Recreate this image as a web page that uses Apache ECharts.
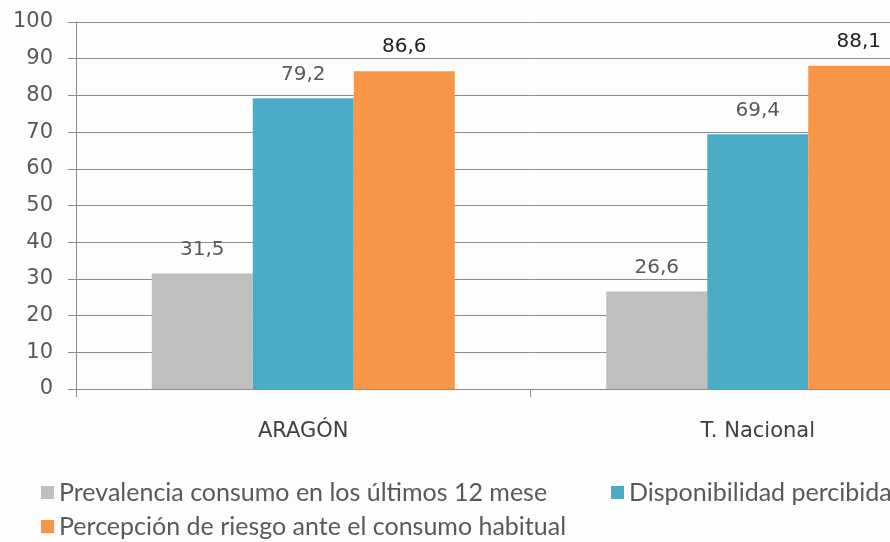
<!DOCTYPE html>
<html>
<head>
<meta charset="utf-8">
<script src="https://cdn.jsdelivr.net/npm/echarts@6/dist/echarts.min.js"></script>
<style>
  html, body { margin: 0; padding: 0; background: #fdfdfd; overflow: hidden; }
  /* el gráfico original está recortado por la derecha: lienzo más ancho que la ventana */
  #chart { width: 985px; height: 542px; }
</style>
</head>
<body>
<div id="chart"></div>
<script>
// datos
const categorias = ["ARAGÓN", "T. Nacional"];
const nombres = [
  "Prevalencia consumo en los últimos 12 mese",
  "Disponibilidad percibida",
  "Percepción de riesgo ante el consumo habitual",
];
const prevalencia = [31.5, 26.6];
const disponibilidad = [79.2, 69.4];
const percepcion = [86.6, 88.1];
const colores = ["#bfbfbf", "#4bacc6", "#f79646"];

const chart = echarts.init(document.getElementById("chart"));

const fmt = (p) => String(p.value).replace(".", ",");

function serie(name, data, color, labelColor) {
  return {
    name: name,
    type: "bar",
    data: data,
    barWidth: 101,
    barGap: "0%",
    itemStyle: { color: color },
    label: {
      show: true,
      position: "top",
      distance: 14,
      formatter: fmt,
      fontFamily: "DejaVu Sans",
      fontSize: 20,
      color: labelColor,
    },
  };
}

const leyendaBase = {
  orient: "horizontal",
  itemWidth: 13,
  itemHeight: 13,
  itemGap: 6,
  icon: "rect",
  textStyle: { fontFamily: "Lato", fontSize: 25, color: "#595959" },
};

let option = {
  backgroundColor: "#fdfdfd",
  animation: false,
  grid: { left: 76, right: 0, top: 22, bottom: 153 },
  legend: [
    Object.assign({}, leyendaBase, { left: 36, top: 475, data: [nombres[0]] }),
    Object.assign({}, leyendaBase, { left: 606, top: 475, data: [nombres[1]] }),
    Object.assign({}, leyendaBase, { left: 36, top: 509, data: [nombres[2]] }),
  ],
  xAxis: {
    type: "category",
    data: categorias,
    axisLine: { lineStyle: { color: "#8c8c8c", width: 1 } },
    axisTick: { show: true, length: 8, lineStyle: { color: "#8c8c8c" } },
    axisLabel: {
      margin: 32,
      fontFamily: "DejaVu Sans",
      fontSize: 21,
      color: "#404040",
    },
  },
  yAxis: {
    type: "value",
    min: 0,
    max: 100,
    interval: 10,
    axisLine: { show: true, lineStyle: { color: "#8c8c8c" } },
    axisTick: { show: true, length: 8, lineStyle: { color: "#8c8c8c" } },
    splitLine: { lineStyle: { color: "#8c8c8c" } },
    axisLabel: {
      margin: 23,
      fontFamily: "DejaVu Sans",
      fontSize: 21,
      color: "#595959",
    },
  },
  series: [
    serie(nombres[0], prevalencia, colores[0], "#595959"),
    serie(nombres[1], disponibilidad, colores[1], "#595959"),
    serie(nombres[2], percepcion, colores[2], "#222222"),
  ],
};

chart.setOption(option);
</script>
</body>
</html>
